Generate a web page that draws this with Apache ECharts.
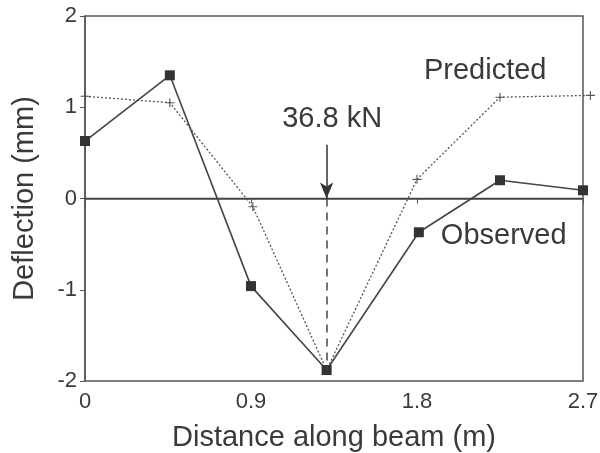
<!DOCTYPE html>
<html>
<head>
<meta charset="utf-8">
<script src="https://cdn.jsdelivr.net/npm/echarts@6/dist/echarts.min.js"></script>
<style>html,body{margin:0;padding:0;background:#fff;}#c{width:600px;height:453px;}</style>
</head>
<body>
<div id="c"></div>
<script>
// Data
var xTicks = [0, 0.9, 1.8, 2.7];
var yTicks = [-2, -1, 0, 1, 2];
var observedX = [0, 0.46, 0.9, 1.31, 1.81, 2.25, 2.7];
var observedY = [0.63, 1.35, -0.96, -1.88, -0.37, 0.20, 0.09];
var predictedX = [0, 0.46, 0.91, 1.31, 1.8, 2.25, 2.74];
var predictedY = [1.12, 1.05, -0.09, -1.88, 0.21, 1.11, 1.13];
var loadX = 1.31;
var loadLabel = '36.8 kN';
var loadArrowTop = 0.59;
var loadArrowTip = 0.0;
var loadDashBottom = -1.88;

var font = 'Liberation Sans, Arial, Helvetica, sans-serif';
var ink = '#3a3a3a';

function pairs(xs, ys) { return xs.map(function (x, i) { return [x, ys[i]]; }); }

var chart = echarts.init(document.getElementById('c'), null, {renderer: 'canvas'});
chart.setOption({
  backgroundColor: '#fff',
  animation: false,
  grid: {left: 85, right: 17, top: 16, bottom: 72, containLabel: false, outerBoundsMode: 'none',
         show: true, borderColor: '#555', borderWidth: 1.5, backgroundColor: 'transparent'},
  xAxis: {
    type: 'value', min: xTicks[0], max: xTicks[xTicks.length - 1], interval: 0.9,
    name: 'Distance along beam (m)', nameLocation: 'middle', nameGap: 42,
    nameTextStyle: {fontFamily: font, fontSize: 29, color: ink},
    axisLine: {show: true, lineStyle: {color: '#555', width: 1.5}},
    axisTick: {show: true, inside: false, length: 5, lineStyle: {color: '#555'}},
    axisLabel: {fontFamily: font, fontSize: 22, color: ink, margin: 10},
    splitLine: {show: false}
  },
  yAxis: {
    type: 'value', min: yTicks[0], max: yTicks[yTicks.length - 1], interval: 1,
    name: 'Deflection (mm)', nameLocation: 'middle', nameGap: 46,
    nameTextStyle: {fontFamily: font, fontSize: 29, color: ink},
    axisLine: {show: true, lineStyle: {color: '#555', width: 1.5}},
    axisTick: {show: true, inside: false, length: 5, lineStyle: {color: '#555'}},
    axisLabel: {fontFamily: font, fontSize: 22, color: ink, margin: 8},
    splitLine: {show: false}
  },
  series: [
    {
      name: 'Predicted', type: 'line', data: pairs(predictedX, predictedY),
      symbol: 'path://M4.4,0h1.2v10h-1.2zM0,4.4h10v1.2h-10z', symbolSize: 9,
      showSymbol: true,
      itemStyle: {color: '#555'},
      lineStyle: {color: '#555', width: 1.3, type: [2, 2]},
      clip: false, z: 3,
      markPoint: {
        symbol: 'circle', symbolSize: 0, silent: true,
        label: {show: true, position: 'inside', fontFamily: font, fontSize: 29, color: ink},
        data: [
          {coord: [2.17, 1.40], value: 'Predicted', label: {formatter: 'Predicted'}},
          {coord: [loadX + 0.03, 0.87], value: loadLabel, label: {formatter: loadLabel}}
        ]
      }
    },
    {
      name: 'Observed', type: 'line', data: pairs(observedX, observedY),
      symbol: 'rect', symbolSize: 10,
      itemStyle: {color: '#333'},
      lineStyle: {color: '#444', width: 1.6},
      clip: false, z: 4,
      markPoint: {
        symbol: 'circle', symbolSize: 0, silent: true,
        label: {show: true, position: 'inside', fontFamily: font, fontSize: 29, color: ink},
        data: [
          {coord: [2.27, -0.41], value: 'Observed', label: {formatter: 'Observed'}}
        ]
      },
      markLine: {
        silent: true, animation: false,
        label: {show: false},
        data: [
          [{coord: [xTicks[0], 0], symbol: 'none'}, {coord: [xTicks[xTicks.length - 1], 0], symbol: 'none'}],
          [{coord: [loadX, loadArrowTip], symbol: 'none', lineStyle: {type: [8, 6], width: 1.5, color: '#444'}},
           {coord: [loadX, loadDashBottom], symbol: 'none'}],
          [{coord: [loadX, loadArrowTop], symbol: 'none', lineStyle: {type: 'solid', width: 1.5, color: '#333'}},
           {coord: [loadX, loadArrowTip], symbol: 'arrow', symbolSize: [10, 16]}]
        ],
        lineStyle: {color: '#444', width: 1.3, type: 'solid'}
      }
    }
  ]
});
</script>
</body>
</html>
